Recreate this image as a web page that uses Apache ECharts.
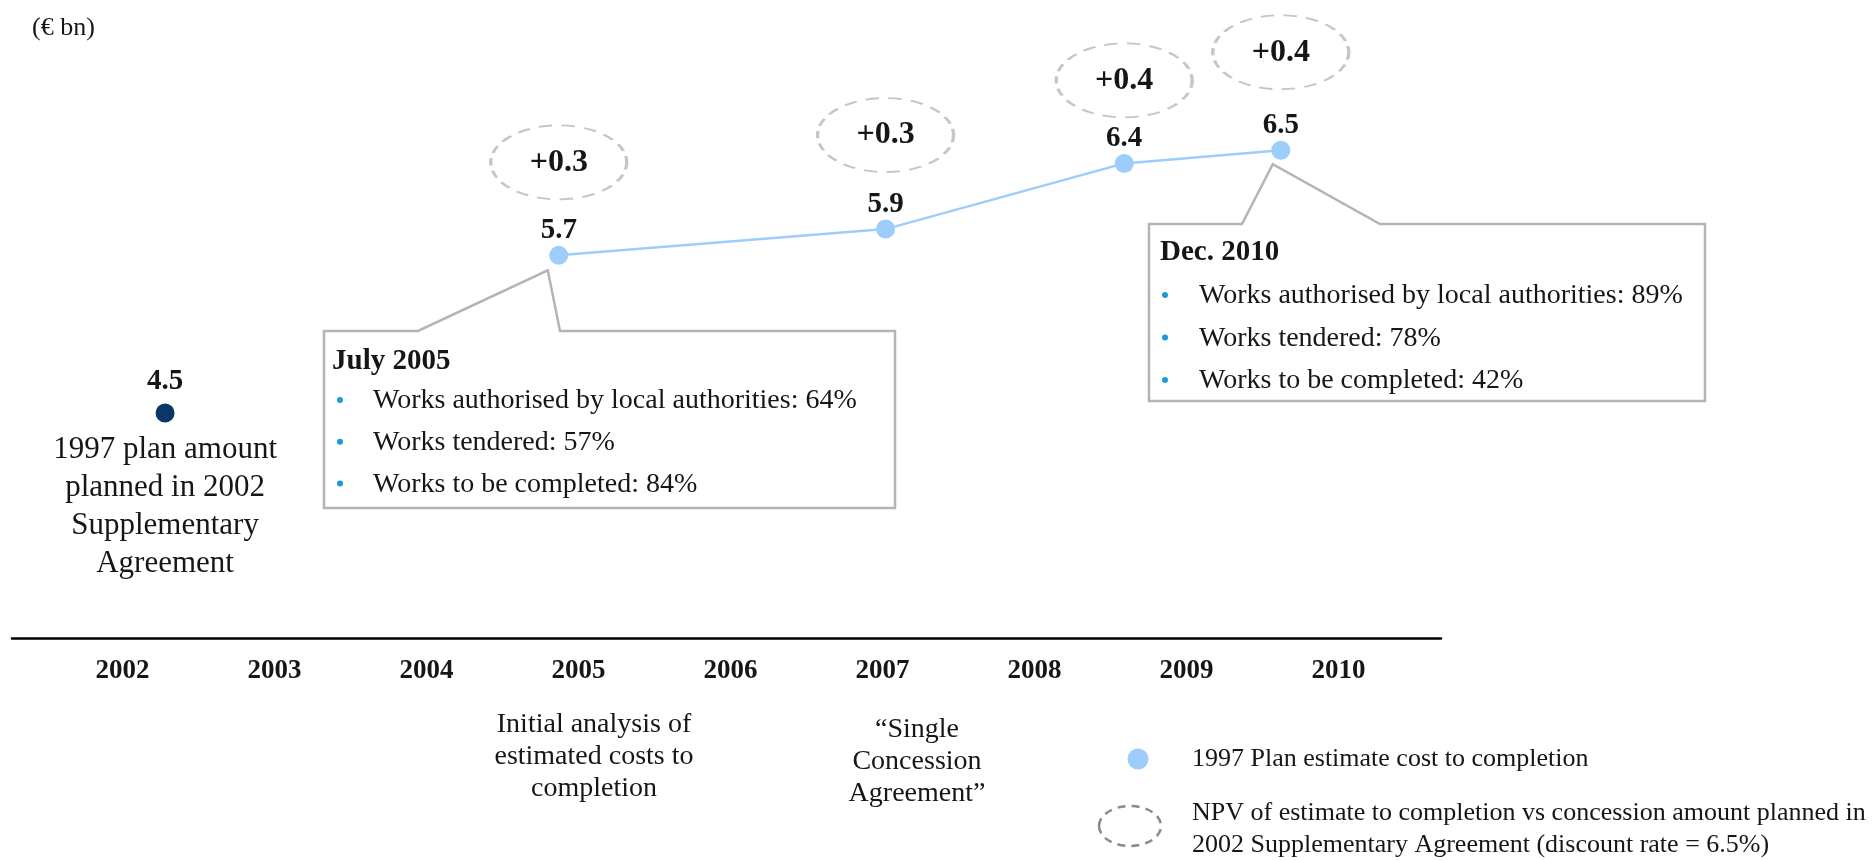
<!DOCTYPE html>
<html>
<head>
<meta charset="utf-8">
<script src="https://cdn.jsdelivr.net/npm/echarts@6/dist/echarts.min.js"></script>
<style>
  html, body { margin: 0; padding: 0; background: #fff; }
  #chart { width: 1872px; height: 860px; }
</style>
</head>
<body>
<div id="chart"></div>
<script>
// timeline years shown under the axis
const years = [2002, 2003, 2004, 2005, 2006, 2007, 2008, 2009, 2010];

// 2002 Supplementary Agreement amount
const planYear = [2002.28];
const planValue = [4.5];

// 1997 plan estimate cost to completion (€ bn)
const estimateYears = [2004.87, 2007.02, 2008.59, 2009.62];
const estimateValues = [5.7, 5.9, 6.4, 6.5];

// NPV difference vs 2002 amount
const npvDeltas = [0.3, 0.3, 0.4, 0.4];

const planNote = ['1997 plan amount', 'planned in 2002', 'Supplementary', 'Agreement'];
const julyTitle = 'July 2005';
const julyItems = ['Works authorised by local authorities: 64%', 'Works tendered: 57%', 'Works to be completed: 84%'];
const decTitle = 'Dec. 2010';
const decItems = ['Works authorised by local authorities: 89%', 'Works tendered: 78%', 'Works to be completed: 42%'];
const noteAnalysis = ['Initial analysis of', 'estimated costs to', 'completion'];
const noteSingle = ['\u201cSingle', 'Concession', 'Agreement\u201d'];
const legendEstimate = '1997 Plan estimate cost to completion';
const legendNpv = ['NPV of estimate to completion vs concession amount planned in', '2002 Supplementary Agreement (discount rate = 6.5%)'];

const FONT = "'Liberation Serif', serif";
const INK = '#161616';
const LIGHT_BLUE = '#9dcdfa';
const NAVY = '#0b3668';
const BOX_GREY = '#b4b4b4';
const BULLET = '#1a9ad9';

// how far each dashed bubble floats above its point (px)
const bubbleLift = [-93, -94, -83, -98];

const chart = echarts.init(document.getElementById('chart'));

const estimateData = estimateYears.map((y, i) => [y, estimateValues[i]]);

chart.setOption({
  animation: false,
  backgroundColor: '#fff',
  grid: { left: 12, right: 431, top: 84.6, bottom: 250 },
  xAxis: {
    type: 'value',
    min: 2001.273,
    max: 2010.674,
    offset: 28,
    axisLine: { show: true, lineStyle: { color: '#000', width: 2.5 } },
    axisTick: { show: false },
    splitLine: { show: false },
    axisLabel: {
      customValues: years,
      margin: 20,
      fontFamily: FONT,
      fontWeight: 'bold',
      fontSize: 27,
      color: INK,
      formatter: (v) => String(v)
    }
  },
  yAxis: {
    type: 'value',
    min: 3,
    max: 7,
    show: false,
    splitLine: { show: false }
  },
  series: [
    {
      name: 'npv',
      type: 'scatter',
      silent: true,
      z: 1,
      data: estimateData.map((d, i) => ({ value: d, symbolOffset: [0, bubbleLift[i]] })),
      symbol: 'circle',
      symbolSize: [136, 74],
      itemStyle: {
        opacity: 1,
        color: 'rgba(0,0,0,0)',
        borderColor: '#c6c6c6',
        borderWidth: 2.5,
        borderType: [10, 7]
      },
      label: {
        show: true,
        position: 'inside',
        fontFamily: FONT,
        fontWeight: 'bold',
        fontSize: 32,
        color: INK,
        formatter: (p) => '+' + npvDeltas[p.dataIndex].toFixed(1)
      }
    },
    {
      name: legendEstimate,
      type: 'line',
      silent: true,
      z: 3,
      data: estimateData,
      symbol: 'circle',
      symbolSize: 19,
      lineStyle: { color: LIGHT_BLUE, width: 2.5 },
      itemStyle: { color: LIGHT_BLUE, opacity: 1 },
      label: {
        show: true,
        position: 'top',
        distance: 1,
        fontFamily: FONT,
        fontWeight: 'bold',
        fontSize: 29,
        color: INK,
        formatter: (p) => p.value[1].toFixed(1)
      }
    },
    {
      name: 'plan',
      type: 'scatter',
      silent: true,
      z: 3,
      data: planYear.map((y, i) => [y, planValue[i]]),
      symbol: 'circle',
      symbolSize: 19,
      itemStyle: { color: NAVY, opacity: 1 },
      label: {
        show: true,
        position: 'top',
        distance: 7,
        fontFamily: FONT,
        fontWeight: 'bold',
        fontSize: 29,
        color: INK,
        formatter: (p) => p.value[1].toFixed(1)
      }
    },
    {
      name: 'plan note',
      type: 'scatter',
      silent: true,
      data: planYear.map((y, i) => [y, planValue[i]]),
      symbol: 'circle',
      symbolSize: 1,
      itemStyle: { color: 'rgba(0,0,0,0)', opacity: 1 },
      label: {
        show: true,
        position: 'bottom',
        distance: 17,
        align: 'center',
        fontFamily: FONT,
        fontSize: 31,
        lineHeight: 38,
        color: INK,
        formatter: () => planNote.join('\n')
      }
    }
  ]
});

// callout boxes, anchored under their data point
function callout(pointIdx, box, tipShift, title, items) {
  const p = chart.convertToPixel({ seriesIndex: 1 }, estimateData[pointIdx]);
  const tip = [p[0] + tipShift[0], p[1] + tipShift[1]];
  const els = [{
    type: 'polygon',
    z: 0,
    shape: {
      points: [
        [box.left, box.top], [box.baseL, box.top], tip, [box.baseR, box.top],
        [box.right, box.top], [box.right, box.bottom], [box.left, box.bottom]
      ]
    },
    style: { fill: '#fff', stroke: BOX_GREY, lineWidth: 2.5 }
  }, {
    type: 'text',
    z: 1,
    x: box.titleX,
    y: box.titleY,
    style: {
      text: title, font: 'bold 29px ' + FONT, fill: INK,
      verticalAlign: 'middle', align: 'left'
    }
  }];
  items.forEach((t, i) => {
    const y = box.firstY + i * box.step;
    els.push({
      type: 'circle', z: 1,
      shape: { cx: box.bulletX, cy: y, r: 3 },
      style: { fill: BULLET }
    });
    els.push({
      type: 'text', z: 1,
      x: box.textLeft, y: y + 1,
      style: { text: t, font: '28px ' + FONT, fill: INK, verticalAlign: 'middle', align: 'left' }
    });
  });
  return els;
}

function centredText(lines, cx, firstY, lh, size) {
  return {
    type: 'text',
    x: cx,
    y: firstY - lh / 2,
    style: {
      text: lines.join('\n'), font: size + 'px ' + FONT, fill: INK,
      align: 'center', verticalAlign: 'top', lineHeight: lh
    }
  };
}

const graphics = []
  .concat(callout(0,
    { left: 324, right: 895, top: 331, bottom: 508, baseL: 418, baseR: 560,
      titleX: 332, titleY: 362, bulletX: 340, textLeft: 373, firstY: 400, step: 41.7 },
    [-11, 15], julyTitle, julyItems))
  .concat(callout(3,
    { left: 1149, right: 1705, top: 224, bottom: 401, baseL: 1242, baseR: 1380,
      titleX: 1160, titleY: 253, bulletX: 1165, textLeft: 1199, firstY: 295, step: 42.5 },
    [-8, 14], decTitle, decItems));

graphics.push({
  type: 'text', x: 32, y: 28,
  style: { text: '(\u20ac bn)', font: '26px ' + FONT, fill: INK, verticalAlign: 'middle' }
});
graphics.push(centredText(noteAnalysis, 594, 725, 32, 28));
graphics.push(centredText(noteSingle, 917, 730, 32, 28));

// legend
graphics.push({
  type: 'circle', shape: { cx: 1138, cy: 759, r: 10.5 }, style: { fill: LIGHT_BLUE }
});
graphics.push({
  type: 'text', x: 1192, y: 759,
  style: { text: legendEstimate, font: '26px ' + FONT, fill: INK, verticalAlign: 'middle' }
});
graphics.push({
  type: 'ellipse', shape: { cx: 1130, cy: 826, rx: 31, ry: 20 },
  style: { fill: 'none', stroke: '#8a8a8a', lineWidth: 2.5, lineDash: [8, 6] }
});
graphics.push({
  type: 'text', x: 1192, y: 829,
  style: {
    text: legendNpv.join('\n'), font: '26px ' + FONT, fill: INK,
    verticalAlign: 'middle', lineHeight: 32
  }
});

chart.setOption({ graphic: graphics });
</script>
</body>
</html>
